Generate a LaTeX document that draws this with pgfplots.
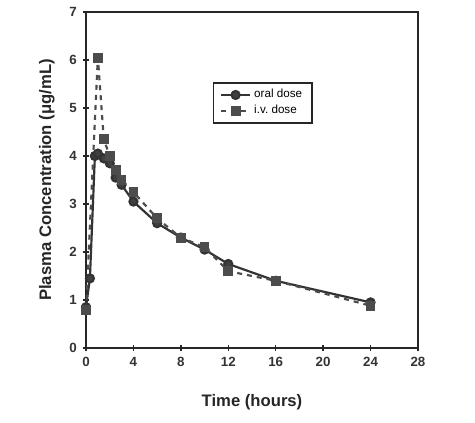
\documentclass[border=0pt]{standalone}
\usepackage{pgfplots}
\pgfplotsset{compat=1.18}
\usepackage{fontspec}
\setmainfont{Liberation Sans}
\begin{document}
\begin{tikzpicture}[x=0.6pt,y=0.6pt]
\path (0,0) rectangle (475,423);
\begin{axis}[
  at={(86*0.6pt,75*0.6pt)}, anchor=south west,
  scale only axis, width=332*0.6pt, height=336*0.6pt,
  xmin=0, xmax=28, ymin=0, ymax=7,
  xtick={0,4,...,28}, ytick={0,1,...,7},
  tick pos=left, tick align=center,
  major tick length=4pt,
  axis line style={line width=1.1pt, black!85},
  every tick/.style={line width=0.9pt, black!85},
  tick label style={font=\bfseries\footnotesize, text=black!80},
  /pgf/number format/assume math mode=true,
  xlabel={\bfseries Time (hours)},
  ylabel={\bfseries Plasma Concentration (μg/mL)},
  label style={font=\normalsize, text=black!85},
  xlabel style={yshift=-10pt},
  ylabel style={yshift=2pt},
  legend style={at={(axis cs:10.7,5.54)}, anchor=north west,
    font=\scriptsize, draw=black!85, line width=0.9pt,
    inner xsep=4pt, inner ysep=2pt, row sep=-1pt},
  legend cell align=left,
]
\addplot[black!80, line width=1.3pt, mark=*, mark size=2.4pt,
  mark options={solid, fill=black!75}] coordinates {
 (0,0.85) (0.33,1.45) (0.75,4.0) (1,4.05) (1.5,3.95) (2,3.85) (2.5,3.55)
 (3,3.4) (4,3.05) (6,2.6) (8,2.3) (10,2.05) (12,1.75) (16,1.4) (24,0.95)};
\addlegendentry{oral dose}
\addplot[black!70, line width=1.3pt, dashed, mark=square*, mark size=2.3pt,
  mark options={solid, fill=black!70}] coordinates {
 (0,0.8) (1,6.05) (1.5,4.35) (2,4.0) (2.5,3.7) (3,3.5) (4,3.25)
 (6,2.7) (8,2.3) (10,2.1) (12,1.6) (16,1.4) (24,0.88)};
\addlegendentry{i.v.\ dose}
\end{axis}
\end{tikzpicture}
\end{document}
